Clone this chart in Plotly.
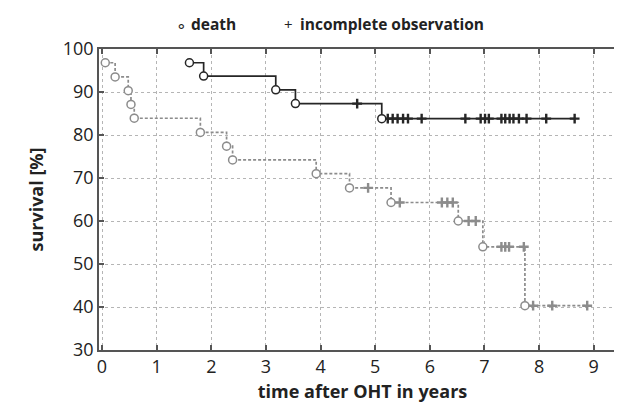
import numpy as np
import plotly.graph_objects as go

# ---- data ----
gray_death_t = [0.06, 0.24, 0.48, 0.53, 0.59, 1.80, 2.28, 2.39, 3.92, 4.53, 5.29, 6.52, 6.97, 7.74]
gray_death_s = [96.8, 93.5, 90.3, 87.1, 83.9, 80.6, 77.4, 74.2, 71.0, 67.7, 64.3, 60.0, 54.0, 40.3]
gray_cens_t = [4.87, 5.45, 6.22, 6.32, 6.42, 6.71, 6.84, 7.31, 7.38, 7.45, 7.72, 7.89, 8.24, 8.88]

black_death_t = [1.60, 1.86, 3.18, 3.54, 5.12]
black_death_s = [96.8, 93.7, 90.5, 87.3, 83.8]
black_cens_t = [4.67, 5.23, 5.32, 5.41, 5.51, 5.60, 5.85, 6.65, 6.93, 7.01, 7.08,
                7.31, 7.38, 7.46, 7.53, 7.63, 7.77, 8.13, 8.65]

x_ticks = [0, 1, 2, 3, 4, 5, 6, 7, 8, 9]
y_ticks = [30, 40, 50, 60, 70, 80, 90, 100]

GRAY = "#8c8c8c"
BLACK = "#262626"
FONT = "Open Sans"


def step_value(death_t, death_s, t):
    i = np.searchsorted(np.array(death_t), t, side="right") - 1
    return death_s[max(i, 0)]


def curve(death_t, death_s, cens_t, color, dash):
    end = max(cens_t)
    xs = list(death_t) + [end]
    ys = list(death_s) + [death_s[-1]]
    cy = [step_value(death_t, death_s, t) for t in cens_t]
    return [
        go.Scatter(x=xs, y=ys, mode="lines", line=dict(color=color, width=1.7, dash=dash, shape="hv"),
                   hoverinfo="skip"),
        go.Scatter(x=cens_t, y=cy, mode="markers",
                   marker=dict(symbol="cross-thin", size=7, line=dict(color=color, width=2.4))),
        go.Scatter(x=death_t, y=death_s, mode="markers",
                   marker=dict(symbol="circle", size=8, color="white", line=dict(color=color, width=1.5))),
    ]


fig = go.Figure()
for tr in curve(gray_death_t, gray_death_s, gray_cens_t, GRAY, "3px,2px"):
    fig.add_trace(tr)
for tr in curve(black_death_t, black_death_s, black_cens_t, BLACK, "solid"):
    fig.add_trace(tr)

axis_common = dict(
    showline=True, linecolor="#555", linewidth=1.5, mirror="ticks",
    ticks="inside", ticklen=5, tickwidth=1.5, tickcolor="#555",
    showgrid=True, gridcolor="#b5b5b5", griddash="dot", gridwidth=1,
    zeroline=False, tickfont=dict(family=FONT, size=18, color="#222"),
)

fig.update_xaxes(range=[-0.055, 9.59], tickvals=x_ticks, ticktext=[str(v) for v in x_ticks],
                 title=dict(text="<b>time after OHT in years</b>", font=dict(family=FONT, size=18, color="#222"),
                            standoff=8),
                 **axis_common)
fig.update_yaxes(range=[30, 100], tickvals=y_ticks, ticktext=[str(v) for v in y_ticks],
                 title=dict(text="<b>survival [%]</b>", font=dict(family=FONT, size=18, color="#222"),
                            standoff=14),
                 **axis_common)

W, H = 622, 405
L, R, T, B = 91, 2, 41, 63
pw, ph = W - L - R, H - T - B


def px2paper(px, py):
    return (px - L) / pw, (H - B - py) / ph


legend_items = [(174, "∘", False, 17), (181, "death", True, 15.5),
                (281, "+", False, 15), (291, "incomplete observation", True, 15.5)]
for px, txt, bold, sz in legend_items:
    xx, yy = px2paper(px, 16)
    fig.add_annotation(x=xx, y=yy, xref="paper", yref="paper", showarrow=False,
                       text=f"<b>{txt}</b>" if bold else txt,
                       xanchor="center" if not bold else "left", yanchor="middle",
                       font=dict(family=FONT, size=sz, color="#222"))

fig.update_layout(
    width=W, height=H, margin=dict(l=L, r=R, t=T, b=B),
    paper_bgcolor="white", plot_bgcolor="white", showlegend=False,
)

fig.write_html("out.html")
